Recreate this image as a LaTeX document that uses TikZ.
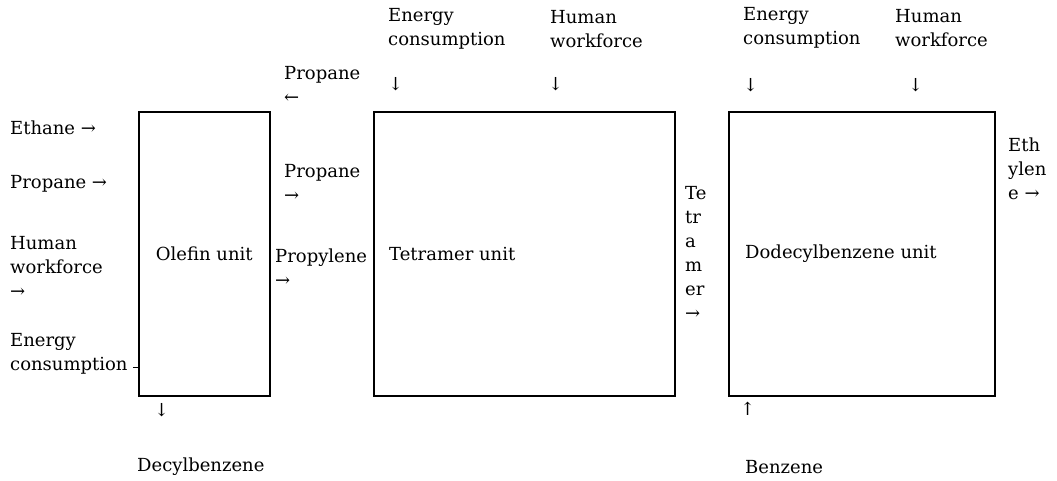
\documentclass[tikz,border=0pt]{standalone}
\usepackage{fontspec}
\setmainfont{DejaVu Serif}
\usetikzlibrary{positioning}
\tikzset{
x=1pt, y=-1pt, % picture measured in pixels, top down
unit/.style={draw, line width=1.6pt, inner sep=0pt, anchor=north west, minimum height=284pt, font=\fontsize{18}{24}\selectfont}, % process boxes
lbl/.style={anchor=west, inner sep=0pt, align=left, font=\fontsize{18}{24}\selectfont}, % stream labels
}

\begin{document}
\begin{tikzpicture}
       \useasboundingbox (0,0) rectangle (1057,481);
       % units
       \node[unit, minimum width=131pt] (olefin) at (138,111) {Olefin unit};
       \node[unit, minimum width=301pt] (tetra) at (373,111) {};
       \node[unit, minimum width=266pt] (dodec) at (728,111) {};
       \node[lbl, right=16pt of tetra.west] (tetralbl) {Tetramer unit};
       \node[lbl, right=17pt of dodec.west] (dodeclbl) {Dodecylbenzene unit};

       % olefin unit streams
       \node[lbl] (ethane) at (10,128) {Ethane →};
       \node[lbl] (propin) at (10,184) {Propane →};
       \node[lbl] (hwolef) at (10,267) {Human\\workforce\\→};
       \node[lbl] (enolef) at (10,354) {Energy\\consumption};
       \draw[line width=0.7pt] (enolef.south east) ++(5,-7) coordinate (tick) -- (tick -| olefin.west);
       \node[lbl] (downolef) at (154,410) {↓};
       \node[lbl] (decyl) at (137,467) {Decylbenzene};

       % between olefin and tetramer
       \node[lbl] (propback) at (284,85) {Propane\\←};
       \node[lbl] (propfwd) at (284,183) {Propane\\→};
       \node[lbl] (propyl) at (275,268) {Propylene\\→};

       % tetramer inputs
       \node[lbl] (entetra) at (388,29) {Energy\\consumption};
       \node[lbl] (hwtetra) at (550,29) {Human\\workforce};
       \node[lbl] (dentetra) at (388,84) {↓};
       \node[lbl] (dhwtetra) at (548,84) {↓};

       % tetramer to dodecylbenzene
       \node[lbl] (tetramer) at (685,253) {Te\\tr\\a\\m\\er\\→};

       % dodecylbenzene inputs and outputs
       \node[lbl] (endodec) at (743,28) {Energy\\consumption};
       \node[lbl] (hwdodec) at (895,28) {Human\\workforce};
       \node[lbl] (dendodec) at (743,85) {↓};
       \node[lbl] (dhwdodec) at (908,85) {↓};
       \node[lbl] (ethylene) at (1008,169) {Eth\\ylen\\e →};
       \node[lbl] (upbenz) at (740,409) {↑};
       \node[lbl] (benzene) at (745,467) {Benzene};
\end{tikzpicture}
\end{document}
